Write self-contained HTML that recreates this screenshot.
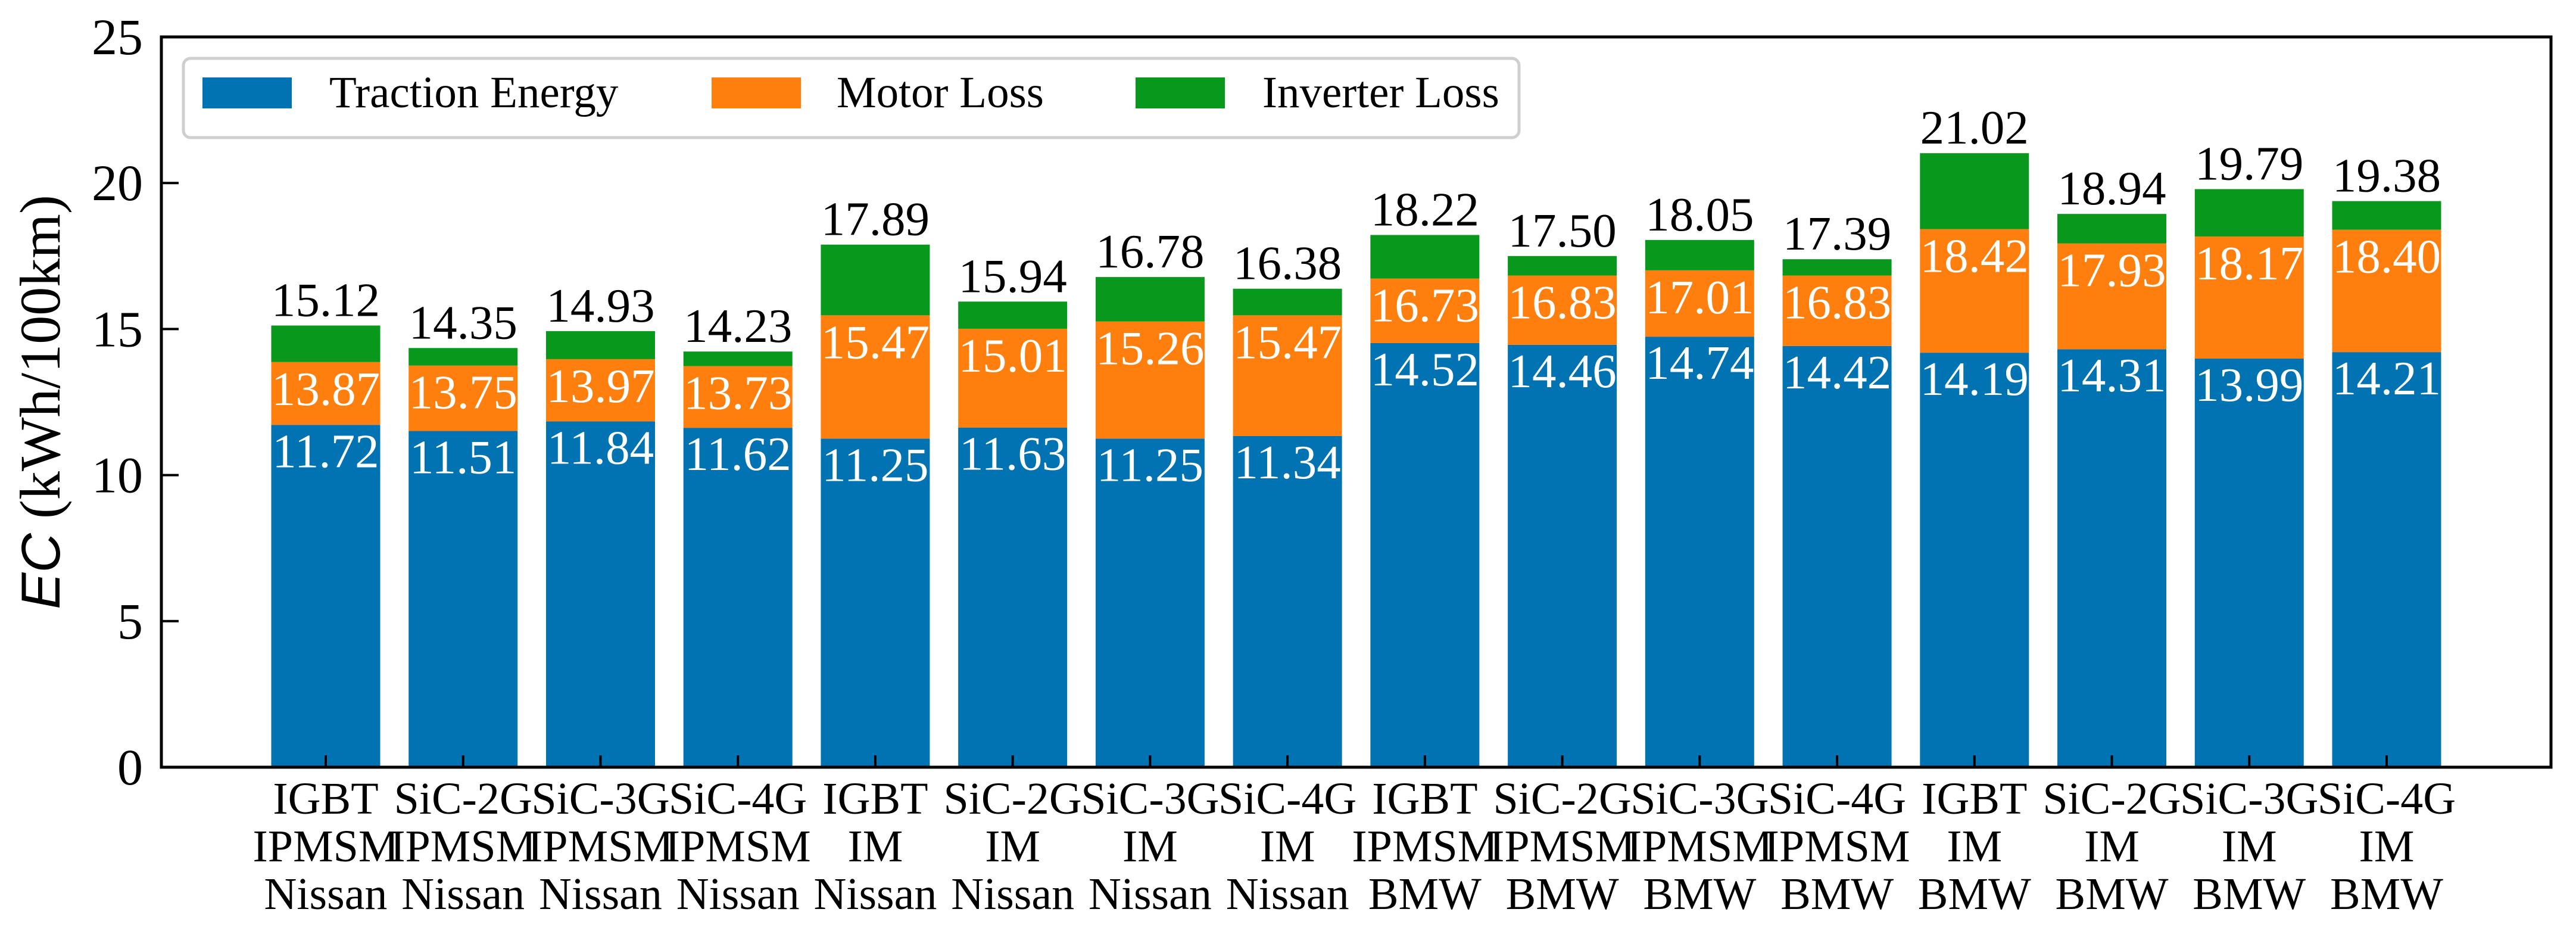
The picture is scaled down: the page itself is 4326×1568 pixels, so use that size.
<!DOCTYPE html>
<html><head><meta charset="utf-8"><style>
html,body{margin:0;padding:0;background:#fff;}
svg{display:block;font-family:"Liberation Serif",serif;}
</style></head><body>
<svg id="chart" width="4326" height="1568" viewBox="0 0 4326 1568" xmlns="http://www.w3.org/2000/svg" font-family="Liberation Serif, serif">
<g id="bars"></g>
<g id="axes"></g>
<text transform="translate(100,675) rotate(-90)" text-anchor="middle" font-size="96" fill="#000"><tspan font-style="italic" font-family="Liberation Sans, sans-serif" font-size="92">EC</tspan> (kWh/100km)</text>
<g>
<rect x="308" y="98" width="2243" height="133" rx="12" fill="#fff" stroke="#cfcfcf" stroke-width="5"/>
<rect x="340" y="130" width="150" height="52" fill="#0173b2"/>
<text x="553" y="180" font-size="75">Traction Energy</text>
<rect x="1195" y="130" width="150" height="52" fill="#ff7f0e"/>
<text x="1405" y="180" font-size="75">Motor Loss</text>
<rect x="1907" y="130" width="150" height="52" fill="#07981c"/>
<text x="2120" y="180" font-size="75">Inverter Loss</text>
</g>
</svg>
<script>
const line1 = ["IGBT","SiC-2G","SiC-3G","SiC-4G","IGBT","SiC-2G","SiC-3G","SiC-4G","IGBT","SiC-2G","SiC-3G","SiC-4G","IGBT","SiC-2G","SiC-3G","SiC-4G"];
const line2 = ["IPMSM","IPMSM","IPMSM","IPMSM","IM","IM","IM","IM","IPMSM","IPMSM","IPMSM","IPMSM","IM","IM","IM","IM"];
const line3 = ["Nissan","Nissan","Nissan","Nissan","Nissan","Nissan","Nissan","Nissan","BMW","BMW","BMW","BMW","BMW","BMW","BMW","BMW"];
const traction = [11.72,11.51,11.84,11.62,11.25,11.63,11.25,11.34,14.52,14.46,14.74,14.42,14.19,14.31,13.99,14.21];
const motorTop = [13.87,13.75,13.97,13.73,15.47,15.01,15.26,15.47,16.73,16.83,17.01,16.83,18.42,17.93,18.17,18.40];
const total = [15.12,14.35,14.93,14.23,17.89,15.94,16.78,16.38,18.22,17.50,18.05,17.39,21.02,18.94,19.79,19.38];
const yTicks = [0,5,10,15,20,25];

const NS="http://www.w3.org/2000/svg";
const L=271,R=4284,T=62,B=1288,YMAX=25;
const x0=547,step=(4008-547)/15,bw=183;
const y=v=>B-(v/YMAX)*(B-T);
const xc=i=>x0+i*step;
function mk(tag,attrs,parent,txt){const e=document.createElementNS(NS,tag);for(const k in attrs)e.setAttribute(k,attrs[k]);if(txt!==undefined)e.textContent=txt;parent.appendChild(e);return e;}
const bars=document.getElementById('bars'),axes=document.getElementById('axes');
traction.forEach((t,i)=>{
  const m=motorTop[i],s=total[i],cx=xc(i),lx=cx-bw/2;
  let r=mk('rect',{x:lx,y:y(t),width:bw,height:B-y(t),fill:'#0173b2'},bars);
  
  
  r=mk('rect',{x:lx,y:y(m),width:bw,height:y(t)-y(m),fill:'#ff7f0e'},bars);
  
  
  r=mk('rect',{x:lx,y:y(s),width:bw,height:y(m)-y(s),fill:'#07981c'},bars);
  
  
  let tx=mk('text',{x:cx,y:y(s)-16,'text-anchor':'middle','font-size':81,fill:'#000'},bars,s.toFixed(2));
  
  
  tx=mk('text',{x:cx,y:y(m)+72,'text-anchor':'middle','font-size':81,fill:'#fff'},bars,m.toFixed(2));
  
  
  tx=mk('text',{x:cx,y:y(t)+71,'text-anchor':'middle','font-size':81,fill:'#fff'},bars,t.toFixed(2));
  
  
  const tk=mk('line',{x1:cx,x2:cx,y1:B,y2:B-20,stroke:'#000','stroke-width':4},axes);
  
  
  const lb=mk('text',{'text-anchor':'middle','font-size':76,fill:'#000'},axes);
  
  
  [line1[i],line2[i],line3[i]].forEach((s2,k)=>mk('tspan',{x:cx,y:1366+k*80},lb,s2));
});
yTicks.forEach(v=>{
  const tk=mk('line',{x1:L,x2:L+29,y1:y(v),y2:y(v),stroke:'#000','stroke-width':4},axes);
  
  
  const lb=mk('text',{x:240,y:y(v)+29,'text-anchor':'end','font-size':86,fill:'#000'},axes,String(v));
  
  
});
const fr=mk('rect',{x:L,y:T,width:R-L,height:B-T,fill:'none',stroke:'#000','stroke-width':5},axes);


</script>
</body></html>
